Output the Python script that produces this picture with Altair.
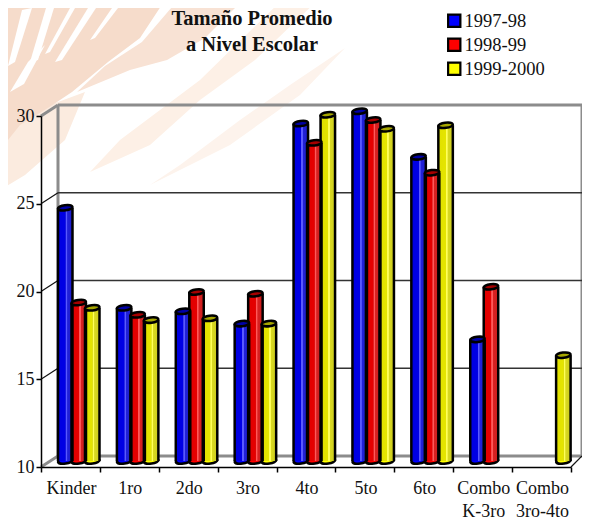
import altair as alt
import pandas as pd

categories = ["Kinder", "1ro", "2do", "3ro", "4to", "5to", "6to", "Combo\nK-3ro", "Combo\n3ro-4to"]
series_names = ["1997-98", "1998-99", "1999-2000"]
s1997 = [24.6, 18.9, 18.7, 18.0, 29.4, 30.1, 27.5, 17.1, None]
s1998 = [19.2, 18.5, 19.8, 19.7, 28.3, 29.6, 26.6, 20.1, None]
s1999 = [18.9, 18.2, 18.3, 18.0, 29.9, 29.1, 29.3, None, 16.2]
colors = ["#0000ff", "#ff0000", "#ffff00"]
FONT = "Liberation Serif"

SLOT = 530 / 9
rows = []
for k, vals in enumerate([s1997, s1998, s1999]):
    for i, v in enumerate(vals):
        if v is None:
            continue
        left = i + (17 + 13.5 * k) / SLOT
        right = left + 14.5 / SLOT
        rows.append({"serie": series_names[k], "left": left, "right": right,
                     "mid": (left + right) / 2, "valor": v, "base": 10})
df = pd.DataFrame(rows)

xs = alt.Scale(domain=[0, 9], nice=False, zero=False)
ys = alt.Scale(domain=[10, 30], nice=False, zero=False)
cs = alt.Scale(domain=series_names, range=colors)
x_axis = alt.Axis(values=list(range(10)), labels=False, title=None, grid=False, zindex=1,
                  tickSize=5, tickColor="black", tickWidth=1.5, domainColor="black", domainWidth=1.5)
y_axis = alt.Axis(values=[10, 15, 20, 25, 30], title=None, grid=False, tickSize=5, zindex=1,
                  tickColor="black", tickWidth=1.5, domainColor="black", domainWidth=1.5,
                  labelFont=FONT, labelFontSize=18, labelColor="#111111", labelPadding=2)
legend = alt.Legend(orient="none", legendX=404, legendY=-104.5, title=None, symbolType="square", symbolSize=150,
                    symbolStrokeColor="black", symbolStrokeWidth=2.2, symbolOpacity=1,
                    labelFont=FONT, labelFontSize=18.5, labelColor="#111111", labelOffset=1,
                    rowPadding=2, labelLimit=200)
X = lambda f: alt.X(f, type="quantitative", scale=xs, axis=x_axis)
Y = lambda f: alt.Y(f, type="quantitative", scale=ys, axis=y_axis)
F = alt.Fill("serie:N", scale=cs, legend=legend)


def bg_path(pts):
    return "M" + " L".join(f"{x/300:.4f},{y/300:.4f}" for x, y in pts) + " Z"


bg_shapes = [
    ("#fbebdf", [(0, 130), (50, 105), (85, 92), (65, 140), (25, 175), (0, 190)]),
    ("#f6dccb", [(0, 0), (165, 0), (140, 38), (108, 62), (72, 92), (48, 108), (20, 125), (0, 150)]),
    ("#f8e2d4", [(178, 0), (243, 0), (205, 38), (167, 60), (130, 70), (77, 92), (105, 66), (142, 42)]),
    ("#fdf0e6", [(282, 0), (318, 0), (255, 60), (200, 100), (150, 145), (90, 172), (120, 140), (200, 80)]),
    ("#fdf3ec", [(180, 165), (240, 120), (290, 85), (345, 48), (300, 95), (230, 145), (150, 185)]),
    ("#ffffff", [(22, 10), (32, 8), (15, 62), (8, 66)]),
    ("#ffffff", [(46, 8), (54, 8), (38, 60), (30, 62)]),
    ("#ffffff", [(70, 8), (75, 8), (50, 52), (45, 54)]),
    ("#ffffff", [(88, 8), (96, 8), (62, 60), (55, 62)]),
    ("#ffffff", [(112, 8), (118, 8), (95, 38), (90, 40)]),
    ("#ffffff", [(28, 62), (45, 45), (24, 84), (10, 92)]),
]
anchor = pd.DataFrame({"a": [0]})
background = [
    alt.Chart(anchor).mark_point(filled=True, opacity=1, shape=bg_path(p), size=360000,
                                 color=c, strokeWidth=0)
    .encode(x=alt.value(-41), y=alt.value(-116))
    for c, p in bg_shapes
]

DX, DY = 17, -11
WALL_R = 9 - 6 / SLOT
walls = pd.DataFrame({"x": [0, 0, 0, WALL_R], "x2": [WALL_R, WALL_R, 0, WALL_R],
                      "y": [10, 30, 10, 10], "y2": [10, 30, 30, 30]})
wall = alt.Chart(walls).mark_rule(color="#8c8c8c", strokeWidth=3, xOffset=DX, x2Offset=DX, yOffset=DY, y2Offset=DY).encode(
    x=X("x"), x2="x2", y=Y("y"), y2="y2")

grid_vals = pd.DataFrame({"v": [15, 20, 25], "a": [0, 0, 0], "b": [WALL_R] * 3})
grid = alt.Chart(grid_vals).mark_rule(color="#333333", strokeWidth=1.5, xOffset=DX, x2Offset=DX, yOffset=DY, y2Offset=DY).encode(
    x=X("a"), x2="b", y=Y("v"))
diag = alt.Chart(grid_vals).mark_rule(color="#111111", strokeWidth=1.2, x2Offset=DX, y2Offset=DY).encode(
    x=X("a"), x2="a", y=Y("v"), y2="v")
diag_top = alt.Chart(pd.DataFrame({"v": [10, 30], "a": [0, 0]})).mark_rule(
    color="#8c8c8c", strokeWidth=3, x2Offset=DX, y2Offset=DY).encode(
    x=X("a"), x2="a", y=Y("v"), y2="v")
diag_right = alt.Chart(pd.DataFrame({"v": [10], "a": [9]})).mark_rule(
    color="#111111", strokeWidth=1.2, x2Offset=DX - 6, y2Offset=DY).encode(
    x=X("a"), x2="a", y=Y("v"), y2="v")

ELL = "M-1,0.12 A1,0.36 -6 1 1 1,-0.12 A1,0.36 -6 1 1 -1,0.12 Z"
BY = -3
BASE = -6
base_ell = alt.Chart(df).mark_point(filled=True, opacity=1, shape=ELL, size=210, stroke="black", strokeWidth=2.5, yOffset=BASE).encode(
    x=X("mid"), y=Y("base"), fill=F)

bars = alt.Chart(df).mark_bar(yOffset=BY, y2Offset=BASE, strokeWidth=0).encode(
    x=X("left"), x2="right", y=Y("valor"), y2="base", fill=F)

shade = alt.Gradient(
    gradient="linear", x1=0, x2=1, y1=0, y2=0,
    stops=[
        alt.GradientStop(offset=0, color="rgba(0,0,0,0.12)"),
        alt.GradientStop(offset=0.5, color="rgba(0,0,0,0.10)"),
        alt.GradientStop(offset=0.54, color="rgba(255,255,255,0.35)"),
        alt.GradientStop(offset=0.62, color="rgba(255,255,255,0.35)"),
        alt.GradientStop(offset=0.66, color="rgba(120,120,120,0.28)"),
        alt.GradientStop(offset=1, color="rgba(90,90,90,0.32)"),
    ],
)
overlay = alt.Chart(df).mark_bar(color=shade, yOffset=BY, y2Offset=BASE, strokeWidth=0).encode(
    x=X("left"), x2="right", y=Y("valor"), y2="base")

edge_l = alt.Chart(df).mark_rule(color="black", strokeWidth=2.5, yOffset=BY, y2Offset=BASE).encode(
    x=X("left"), y=Y("valor"), y2="base")
edge_r = alt.Chart(df).mark_rule(color="black", strokeWidth=2.5, yOffset=BY, y2Offset=BASE).encode(
    x=X("right"), y=Y("valor"), y2="base")

cap = alt.Chart(df).mark_point(filled=True, opacity=1, shape=ELL, size=210, stroke="black", strokeWidth=2.5, yOffset=BY).encode(
    x=X("mid"), y=Y("valor"), fill=F)
cap_in = alt.Chart(df).mark_point(filled=True, opacity=0.35, shape=ELL, size=210, color="black", strokeWidth=0, yOffset=BY).encode(
    x=X("mid"), y=Y("valor"))

labels_df = pd.DataFrame({"lab": categories, "c": [i + 0.5 for i in range(9)]})
labels = alt.Chart(labels_df).mark_text(font=FONT, fontSize=18, color="#111111", baseline="top", lineBreak="\n",
                                        lineHeight=23, align="center", dx=1).encode(
    x=X("c"), y=alt.value(364), text="lab:N")

chart = alt.layer(
    *background, wall, grid, diag, diag_top, diag_right, base_ell, bars, overlay, edge_l, edge_r, cap, cap_in, labels
).properties(
    width=530, height=351,
    padding={"left": 33, "top": 108, "right": 11, "bottom": 54},
    autosize=alt.AutoSizeParams(type="none"),
    title=alt.TitleParams(
        text=["Tamaño Promedio", "a Nivel Escolar"], font=FONT, fontSize=20.5, fontWeight="bold",
        color="#111111", anchor="middle", dx=-54, offset=-55, lineHeight=26),
).configure_view(stroke=None)

chart.save("out.html", embed_options={"renderer": "svg", "actions": False})
